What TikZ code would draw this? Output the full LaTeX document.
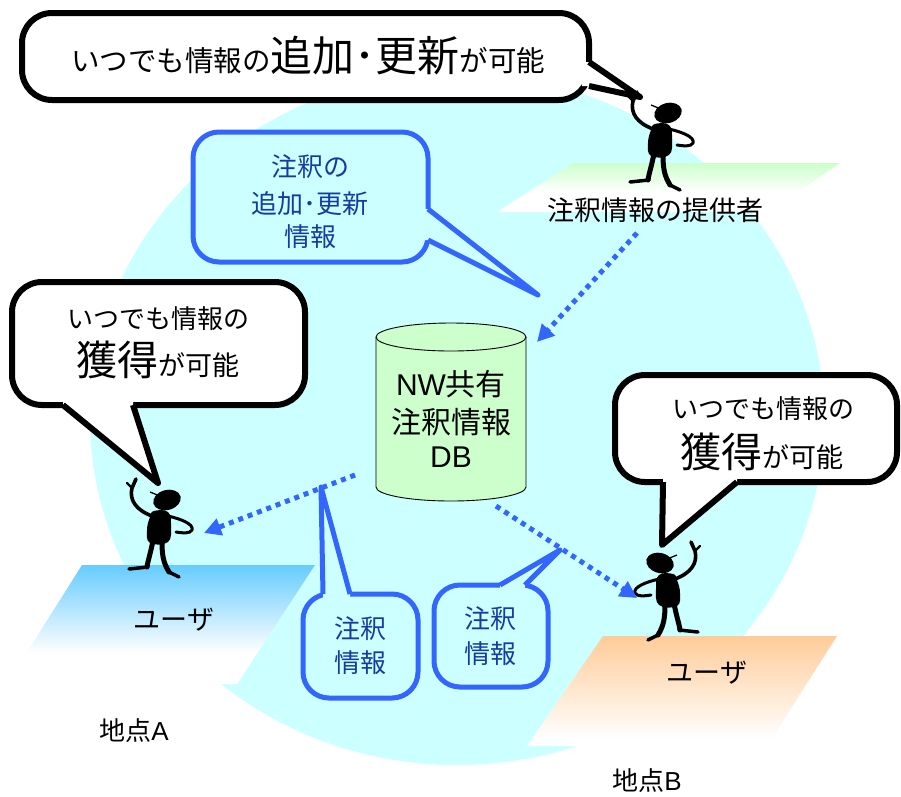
\documentclass[tikz,border=0pt]{standalone}
\usepackage{fontspec}
\setmainfont{Noto Sans CJK JP}
\newfontfamily\latinfont{Liberation Sans}
\usetikzlibrary{arrows.meta}

\definecolor{sky}{RGB}{204,255,255}
\definecolor{callblue}{RGB}{51,102,255}
\definecolor{calltext}{RGB}{20,60,160}
\definecolor{dbgreen}{RGB}{204,255,204}
\definecolor{platblue}{RGB}{102,204,255}
\definecolor{platorange}{RGB}{255,204,153}
\definecolor{platgreen}{RGB}{204,255,204}

\pgfdeclareverticalshading{bluefade}{100bp}{color(0bp)=(white); color(38bp)=(white); color(75bp)=(platblue); color(100bp)=(platblue)}
\pgfdeclareverticalshading{orangefade}{100bp}{color(0bp)=(white); color(28bp)=(white); color(75bp)=(platorange); color(100bp)=(platorange)}
\pgfdeclareverticalshading{greenfade}{100bp}{color(0bp)=(white); color(45bp)=(white); color(75bp)=(platgreen); color(100bp)=(platgreen)}

\tikzset{
  blackbubble/.style={draw=black, line width=6pt, fill=white, rounded corners=30pt},
  blackedge/.style={draw=black, line width=6pt, line join=round},
  bluebubble/.style={draw=callblue, line width=5pt, fill=sky, rounded corners=26pt},
  blueedge/.style={draw=callblue, line width=5pt, line join=round},
  bluetext/.style={anchor=base, text=calltext, font=\fontsize{26}{30}\selectfont},
  blacktext/.style={anchor=base, font=\fontsize{26}{30}\selectfont},
  dbtext/.style={anchor=base, font=\fontsize{30}{34}\selectfont},
  placetext/.style={anchor=base, font=\fontsize{27}{30}\selectfont},
  flow/.style={draw=callblue, line width=5pt, dash pattern=on 5pt off 5pt,
    -{Triangle[length=17pt,width=17pt]}},
  stickman/.pic={
    \fill[rotate=15] (0,0) ellipse[x radius=14, y radius=10];
    \draw[line width=1.3pt] (-7,-4) -- (-17,-8);
    \fill plot[smooth cycle, tension=0.7] coordinates {(-13,11) (1,12) (4,26) (1,42) (-17,43) (-20,30) (-17,17)};
    \draw[line width=3.6pt, line cap=round, line join=round] (-15,16) .. controls (-31,10) and (-38,0) .. (-35,-12) -- (-31,-21);
    \draw[line width=2.4pt, line cap=round] (-35,-12) -- (-40,-17);
    \draw[line width=3pt, line cap=round, line join=round] (1,16) .. controls (14,19) and (27,24) .. (25,30) .. controls (23,34) and (15,33) .. (9,32);
    \draw[line width=5pt, line cap=round] (-14,40) .. controls (-16,52) and (-19,60) .. (-20,67);
    \draw[line width=3.5pt, line cap=round] (-19,67) -- (-38,69);
    \draw[line width=5pt, line cap=round] (-5,40) .. controls (-5,55) and (-4,62) .. (2,72);
    \draw[line width=3.5pt, line cap=round] (2,72) -- (12,77);
  }
}

\begin{document}
\begin{tikzpicture}[x=1pt, y=-1pt]
\useasboundingbox (0,0) rectangle (901,796);

% shared network area
\fill[sky] (457,419) ellipse[x radius=367, y radius=346];

% floor plates of the three sites
\shade[shading=greenfade] (497,212) -- (573,163) -- (840,163) -- (770,212) -- cycle;
\shade[shading=bluefade] (7,684) -- (82,565) -- (315,565) -- (237,684) -- cycle;
\shade[shading=orangefade] (527,746) -- (603,636) -- (837,636) -- (767,746) -- cycle;

% people
\pic (provider) at (668,113) {stickman};
\pic (userA) at (167,500) {stickman};
\pic[xscale=-1] (userB) at (660,563) {stickman};

% shared database cylinder
\fill[dbgreen] (376,337) -- (376,487) arc[start angle=180, end angle=0, x radius=75, y radius=14]
  -- (526,337) arc[start angle=0, end angle=-180, x radius=75, y radius=14] -- cycle;
\draw[line width=0.9pt] (376,337) -- (376,487) arc[start angle=180, end angle=0, x radius=75, y radius=14]
  -- (526,337);
\draw[line width=0.9pt] (451,337) ellipse[x radius=75, y radius=14];
\node[dbtext] (db1) at (451,395) {{\latinfont NW}共有};
\node[dbtext] (db2) at (451,433) {注釈情報};
\node[dbtext] (db3) at (451,467) {{\latinfont DB}};

% top speech bubble
\draw[blackbubble] (22,13) rectangle (589,100);
\fill[white] (582,62) -- (589,62) -- (640,97) -- (589,86) -- (582,86) -- cycle;
\draw[blackedge] (589,62) -- (640,97) -- (589,86);
\node[anchor=base, font=\fontsize{28.5}{30}\selectfont] (topmsg) at (308,71)
  {いつでも情報の{\fontsize{42}{44}\selectfont 追加･更新}が可能};

% left speech bubble
\draw[blackbubble] (12,282) rectangle (305,405);
\fill[white] (63,398) -- (63,405) -- (158,483) -- (133,405) -- (133,398) -- cycle;
\draw[blackedge] (63,405) -- (158,483) -- (133,405);
\node[blacktext] (lmsg1) at (158,328) {いつでも情報の};
\node[anchor=base, font=\fontsize{27}{30}\selectfont] (lmsg2) at (158,375)
  {{\fontsize{41}{44}\selectfont 獲得}が可能};

% right speech bubble
\draw[blackbubble] (615,375) rectangle (897,482);
\fill[white] (663,475) -- (663,482) -- (662,545) -- (737,482) -- (737,475) -- cycle;
\draw[blackedge] (663,482) -- (662,545) -- (737,482);
\node[blacktext] (rmsg1) at (763,418) {いつでも情報の};
\node[anchor=base, font=\fontsize{27}{30}\selectfont] (rmsg2) at (762,467)
  {{\fontsize{41}{44}\selectfont 獲得}が可能};

% annotation update callout
\draw[bluebubble] (193,132) rectangle (428,262);
\fill[sky] (422,209) -- (428,209) -- (538,295) -- (428,240) -- (422,240) -- cycle;
\draw[blueedge] (428,209) -- (538,295) -- (428,240);
\node[bluetext] (up1) at (310,176) {注釈の};
\node[bluetext] (up2) at (310,213) {追加･更新};
\node[bluetext] (up3) at (310,246) {情報};

% annotation callouts on the delivery paths
\draw[bluebubble] (303,594) rectangle (418,698);
\fill[sky] (323,600) -- (323,594) -- (321,487) -- (350,594) -- (350,600) -- cycle;
\draw[blueedge] (323,594) -- (321,487) -- (350,594);
\node[bluetext] (ia1) at (360,638) {注釈};
\node[bluetext] (ia2) at (360,672) {情報};

\draw[bluebubble] (434,585) rectangle (548,687);
\fill[sky] (500,591) -- (500,585) -- (560,550) -- (525,585) -- (525,591) -- cycle;
\draw[blueedge] (500,585) -- (560,550) -- (525,585);
\node[bluetext] (ib1) at (490,628) {注釈};
\node[bluetext] (ib2) at (490,663) {情報};

% labels on the floor plates
\node[placetext] (provlabel) at (655,220) {注釈情報の提供者};
\node[placetext] (userAlabel) at (174,629) {ユーザ};
\node[placetext] (userBlabel) at (707,682) {ユーザ};
\node[anchor=base, font=\fontsize{26}{30}\selectfont] (siteA) at (134,740) {地点{\latinfont A}};
\node[anchor=base, font=\fontsize{26}{30}\selectfont] (siteB) at (647,790) {地点{\latinfont B}};

% data flow
\coordinate (fromProv) at (637,233);
\coordinate (toDb) at (537,342);
\coordinate (dbOutA) at (355,475);
\coordinate (atUserA) at (204,533);
\coordinate (dbOutB) at (496,506);
\coordinate (atUserB) at (637,598);
\draw[flow] (fromProv) -- (toDb);
\draw[flow] (dbOutA) -- (atUserA);
\draw[flow] (dbOutB) -- (atUserB);
\end{tikzpicture}
\end{document}
